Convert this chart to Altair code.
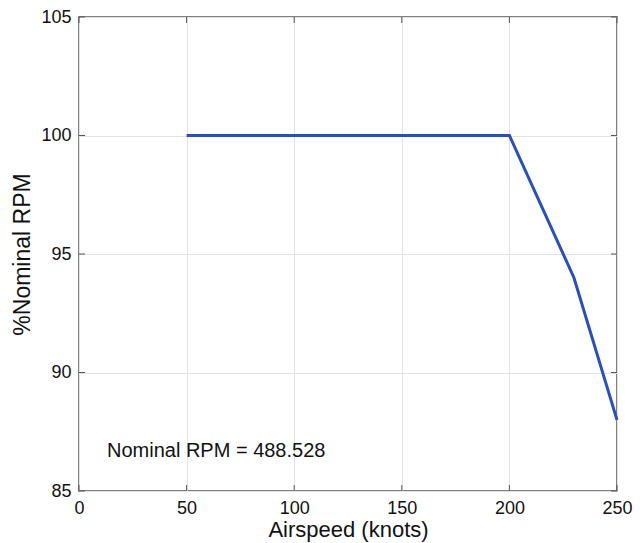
import altair as alt
import pandas as pd

airspeed = [50, 200, 230, 250]
rpm_pct = [100, 100, 94, 88]
x_ticks = [0, 50, 100, 150, 200, 250]
y_ticks = [85, 90, 95, 100, 105]
note = "Nominal RPM = 488.528"
note_x = [13]
note_y = [86.7]

W, H = 538, 474
FONT = "Liberation Sans"

df = pd.DataFrame({"airspeed": airspeed, "rpm": rpm_pct})
xt = pd.DataFrame({"v": x_ticks})
yt = pd.DataFrame({"v": y_ticks})
nd = pd.DataFrame({"x": note_x, "y": note_y, "t": [note]})

xs = alt.Scale(domain=[0, 250], nice=False, zero=False)
ys = alt.Scale(domain=[85, 105], nice=False, zero=False)

xaxis = alt.Axis(values=x_ticks, title="Airspeed (knots)", grid=True, gridColor="#e3e3e3",
                 gridWidth=1, domain=False, ticks=False, labelFont=FONT, labelFontSize=18,
                 labelFlush=False, labelColor="#111", labelPadding=8, titleFont=FONT,
                 titleFontSize=22, titleFontWeight="normal", titleColor="#111", titlePadding=2)
yaxis = alt.Axis(values=y_ticks, title="%Nominal RPM", grid=True, gridColor="#e3e3e3",
                 gridWidth=1, domain=False, ticks=False, labelFont=FONT, labelFontSize=18,
                 labelFlush=False, labelColor="#111", labelPadding=8, titleFont=FONT,
                 titleFontSize=23, titleFontWeight="normal", titleColor="#111", titlePadding=6)

line = alt.Chart(df).mark_line(color="#2a50b8", strokeWidth=3).encode(
    x=alt.X("airspeed:Q", scale=xs, axis=xaxis),
    y=alt.Y("rpm:Q", scale=ys, axis=yaxis),
)

tick_color = "#555555"
bx = alt.Chart(xt).mark_rule(color=tick_color, strokeWidth=1).encode(
    x=alt.X("v:Q", scale=xs), y=alt.value(H), y2=alt.value(H - 6))
tx = alt.Chart(xt).mark_rule(color=tick_color, strokeWidth=1).encode(
    x=alt.X("v:Q", scale=xs), y=alt.value(0), y2=alt.value(6))
ly = alt.Chart(yt).mark_rule(color=tick_color, strokeWidth=1).encode(
    y=alt.Y("v:Q", scale=ys), x=alt.value(0), x2=alt.value(6))
ry = alt.Chart(yt).mark_rule(color=tick_color, strokeWidth=1).encode(
    y=alt.Y("v:Q", scale=ys), x=alt.value(W), x2=alt.value(W - 6))

text = alt.Chart(nd).mark_text(align="left", baseline="middle", font=FONT, fontSize=20,
                               color="#111").encode(
    x=alt.X("x:Q", scale=xs), y=alt.Y("y:Q", scale=ys), text="t:N")

chart = alt.layer(line, bx, tx, ly, ry, text).properties(
    width=W, height=H,
    autosize=alt.AutoSizeParams(type="none"),
    padding={"left": 79, "top": 17, "right": 27, "bottom": 52},
    background="white",
).configure_view(stroke="#555555", strokeWidth=1.5)

chart.save("out.html", embed_options={"renderer": "svg", "actions": False})
